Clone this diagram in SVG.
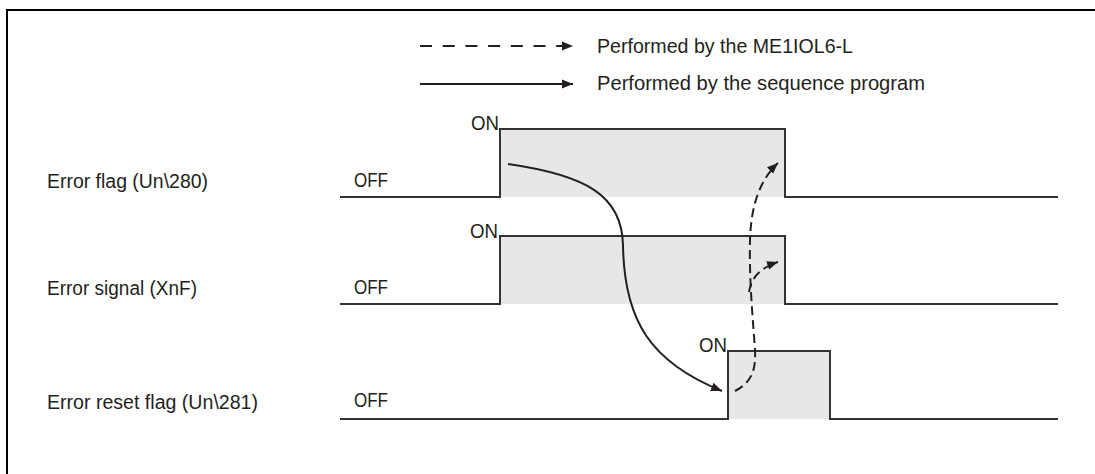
<svg xmlns="http://www.w3.org/2000/svg" width="1095" height="474" viewBox="0 0 1095 474">
<style>
.t{font-family:"Liberation Sans",Arial,sans-serif;font-size:19.5px;fill:#231f20}
.wave{fill:none;stroke:#333;stroke-width:2}
.fill{fill:#e6e7e8;stroke:none}
.sol{fill:none;stroke:#231f20;stroke-width:2}
.dsh{fill:none;stroke:#231f20;stroke-width:2;stroke-dasharray:9,5}
</style>
<defs>
<marker id="ah" markerUnits="userSpaceOnUse" markerWidth="12" markerHeight="10" refX="11" refY="4.5" orient="auto" viewBox="0 0 12 9">
<path d="M0,0 L11,4.5 L0,9 z" fill="#231f20"/>
</marker>
</defs>
<rect width="1095" height="474" fill="#fff"/>
<path d="M7,474 V10 H1095" fill="none" stroke="#000" stroke-width="2"/>

<g id="legend">
<line x1="420" y1="46" x2="573" y2="46" class="sol" style="stroke-dasharray:12,10.7" marker-end="url(#ah)"/>
<line x1="420" y1="84" x2="573" y2="84" class="sol" marker-end="url(#ah)"/>
<text x="597" y="53" class="t" textLength="256" lengthAdjust="spacingAndGlyphs">Performed by the ME1IOL6-L</text>
<text x="597" y="90" class="t" textLength="328" lengthAdjust="spacingAndGlyphs">Performed by the sequence program</text>
</g>

<g id="error-flag">
<rect class="fill" x="500" y="129" width="285" height="68"/>
<path class="wave" d="M340,197 H500 V129 H785 V197 H1058"/>
<text x="47" y="188" class="t" textLength="161" lengthAdjust="spacingAndGlyphs">Error flag (Un\280)</text>
<text x="354" y="187" class="t" textLength="34" lengthAdjust="spacingAndGlyphs">OFF</text>
<text x="471" y="130" class="t" textLength="28" lengthAdjust="spacingAndGlyphs">ON</text>
</g>

<g id="error-signal">
<rect class="fill" x="500" y="236" width="285" height="68"/>
<path class="wave" d="M340,304 H500 V236 H785 V304 H1058"/>
<text x="47" y="295" class="t" textLength="150" lengthAdjust="spacingAndGlyphs">Error signal (XnF)</text>
<text x="354" y="294" class="t" textLength="34" lengthAdjust="spacingAndGlyphs">OFF</text>
<text x="470" y="238" class="t" textLength="28" lengthAdjust="spacingAndGlyphs">ON</text>
</g>

<g id="error-reset-flag">
<rect class="fill" x="728" y="351" width="102" height="68"/>
<path class="wave" d="M340,419 H728 V351 H830 V419 H1058"/>
<text x="47" y="409" class="t" textLength="211" lengthAdjust="spacingAndGlyphs">Error reset flag (Un\281)</text>
<text x="354" y="407" class="t" textLength="34" lengthAdjust="spacingAndGlyphs">OFF</text>
<text x="699" y="352" class="t" textLength="28" lengthAdjust="spacingAndGlyphs">ON</text>
</g>

<g id="connectors">
<path class="sol" d="M508,164 C585,175 622,195 623,245 C624,320 650,362 722,391" marker-end="url(#ah)"/>
<path class="dsh" d="M735,391 C752,382 756,370 755,350 C753,320 749,280 750,240 C751,205 760,180 778,163" marker-end="url(#ah)"/>
<path class="dsh" d="M749,292 C751,278 760,268 778,262" marker-end="url(#ah)"/>
</g>
</svg>
